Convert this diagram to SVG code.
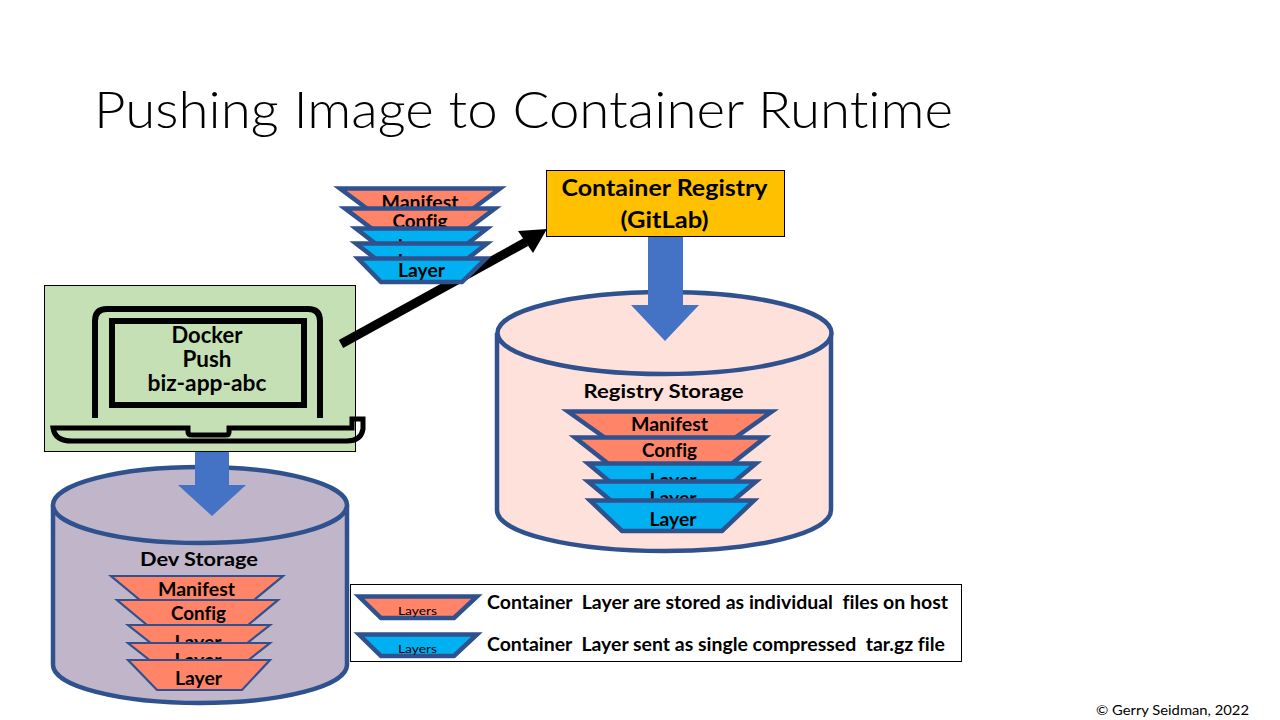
<svg xmlns="http://www.w3.org/2000/svg" width="1280" height="720" viewBox="0 0 1280 720">
<style>
text{font-family:Lato,"Open Sans","Liberation Sans",sans-serif;fill:#000;text-anchor:middle;font-variant-ligatures:none}
.b{font-weight:700}
.cyl{stroke:#2F528F;stroke-width:4.5}
.t{stroke:#2F528F;stroke-linejoin:miter}
.o{fill:#FF8468}
.c{fill:#00B0F0}
.s4{stroke-width:4.5}
.s2{stroke-width:2.2}
.blk{fill:none;stroke:#000}
.lab{font-size:18px;font-weight:700}
.lg{font-size:18px;font-weight:700;text-anchor:start;white-space:pre}
</style>
<rect width="1280" height="720" fill="#fff"/>
<text id="title" x="523.5" y="128" font-size="52" font-weight="300" textLength="859" lengthAdjust="spacingAndGlyphs">Pushing Image to Container Runtime</text>
<g id="dev-storage">
<path class="cyl" fill="#C1B5C9" d="M53,505V665C53,686 119,703 200,703S347,686 347,665V505"/>
<ellipse class="cyl" fill="#C1B5C9" cx="200" cy="505" rx="147" ry="38"/>
<text class="b" x="199" y="566" font-size="19.5" textLength="118" lengthAdjust="spacingAndGlyphs">Dev Storage</text>
</g>
<g id="registry-storage">
<path class="cyl" fill="#FFE1DC" d="M497,333V510C497,533 572,551 664.500,551S831,533 831,510V333"/>
<ellipse class="cyl" fill="#FFE1DC" cx="664.500" cy="333" rx="167" ry="41"/>
<text class="b" x="663.500" y="398" font-size="19.500" textLength="160" lengthAdjust="spacingAndGlyphs">Registry Storage</text>
</g>
<g id="docker-push">
<rect x="44.500" y="285.500" width="311" height="166" fill="#C5E0B4" stroke="#000"/>
<path class="blk" stroke-width="6" d="M95,418V321Q95,309 107,309H308Q320,309 320,321V418"/>
<rect class="blk" x="112" y="321" width="192" height="84" stroke-width="6"/>
<path class="blk" stroke-width="5" d="M53,428H188V432Q188,435 192,435H226Q229,435 229,432V428H352V419H363V429Q361,441 347,441H72Q55,441 53,428Z"/>
<text class="b" x="207" y="343" font-size="22" textLength="71" lengthAdjust="spacingAndGlyphs">Docker</text>
<text class="b" x="207" y="367" font-size="22" textLength="49" lengthAdjust="spacingAndGlyphs">Push</text>
<text class="b" x="207" y="391" font-size="22" textLength="119" lengthAdjust="spacingAndGlyphs">biz-app-abc</text>
</g>
<g id="container-registry">
<rect x="546.500" y="170.500" width="238" height="66" fill="#FFC000" stroke="#000"/>
<text class="b" x="664.500" y="196" font-size="23.500" textLength="206" lengthAdjust="spacingAndGlyphs">Container Registry</text>
<text class="b" x="664.500" y="228" font-size="23.500" textLength="88" lengthAdjust="spacingAndGlyphs">(GitLab)</text>
</g>
<g id="connectors">
<path fill="#4472C4" d="M648,237H683V305H699L665,341L631,305H648Z"/>
<path fill="#4472C4" d="M195,452H229V485H246L212,516L178,485H195Z"/>
<line x1="341" y1="344" x2="526" y2="242" stroke="#000" stroke-width="9"/>
<path d="M547,229L518,231L533,253Z" fill="#000"/>
</g>
<g id="stack-transit">
<path class="t o s4" d="M340,188.500H500L455,222H385Z"/>
<text class="lab" x="420" y="209" textLength="77" lengthAdjust="spacingAndGlyphs">Manifest</text>
<path class="t o s4" d="M345,208.500H495L453,240H387Z"/>
<text class="lab" x="420" y="228" textLength="55" lengthAdjust="spacingAndGlyphs">Config</text>
<path class="t c s4" d="M356,228.500H487L449,258H394Z"/>
<text class="lab" x="421" y="253" textLength="47" lengthAdjust="spacingAndGlyphs">Layer</text>
<path class="t c s4" d="M356,243.500H487L449,273H394Z"/>
<text class="lab" x="421" y="268" textLength="47" lengthAdjust="spacingAndGlyphs">Layer</text>
<path class="t c s4" d="M358,258.500H486L462,282H381Z"/>
<text class="lab" x="421.500" y="277" textLength="47" lengthAdjust="spacingAndGlyphs">Layer</text>
</g>
<g id="stack-registry">
<path class="t o s4" d="M568,411.500H772L722,447H618Z"/>
<text class="lab" x="669.500" y="431" textLength="77" lengthAdjust="spacingAndGlyphs">Manifest</text>
<path class="t o s4" d="M575,437.500H765L720,473H620Z"/>
<text class="lab" x="669.500" y="457" textLength="55" lengthAdjust="spacingAndGlyphs">Config</text>
<path class="t c s4" d="M588,463.500H756L716,497H628Z"/>
<text class="lab" x="673" y="487" textLength="47" lengthAdjust="spacingAndGlyphs">Layer</text>
<path class="t c s4" d="M588,481.500H756L716,515H628Z"/>
<text class="lab" x="673" y="505" textLength="47" lengthAdjust="spacingAndGlyphs">Layer</text>
<path class="t c s4" d="M590,500.500H754L722,531H622Z"/>
<text class="lab" x="673" y="526" textLength="47" lengthAdjust="spacingAndGlyphs">Layer</text>
</g>
<g id="stack-dev">
<path class="t o s2" d="M111,576H283L242,610H152Z"/>
<text class="lab" x="196.500" y="596" textLength="77" lengthAdjust="spacingAndGlyphs">Manifest</text>
<path class="t o s2" d="M117,600H278L236,635H159Z"/>
<text class="lab" x="198.500" y="620" textLength="55" lengthAdjust="spacingAndGlyphs">Config</text>
<path class="t o s2" d="M128,625H270L232,655H166Z"/>
<text class="lab" x="198" y="649" textLength="47" lengthAdjust="spacingAndGlyphs">Layer</text>
<path class="t o s2" d="M128,643H270L232,673H166Z"/>
<text class="lab" x="198" y="667" textLength="47" lengthAdjust="spacingAndGlyphs">Layer</text>
<path class="t o s2" d="M128,660H270L242,690H157Z"/>
<text class="lab" x="198.500" y="685" textLength="47" lengthAdjust="spacingAndGlyphs">Layer</text>
</g>
<g id="legend">
<rect x="350.500" y="584.500" width="611" height="77" fill="#fff" stroke="#000"/>
<path class="t o s4" d="M359,596.500H477L454,618H381Z"/>
<text x="417.500" y="615" font-size="12" textLength="39" lengthAdjust="spacingAndGlyphs">Layers</text>
<path class="t c s4" d="M359,634.500H477L454,656H381Z"/>
<text x="417.500" y="653" font-size="12" textLength="39" lengthAdjust="spacingAndGlyphs">Layers</text>
<text class="lg" x="487" y="609" textLength="461" lengthAdjust="spacingAndGlyphs">Container  Layer are stored as individual  files on host</text>
<text class="lg" x="487" y="651" textLength="458" lengthAdjust="spacingAndGlyphs">Container  Layer sent as single compressed  tar.gz file</text>
</g>
<text id="copyright" x="1172.500" y="715" font-size="14" textLength="153" lengthAdjust="spacingAndGlyphs">© Gerry Seidman, 2022</text>
</svg>
